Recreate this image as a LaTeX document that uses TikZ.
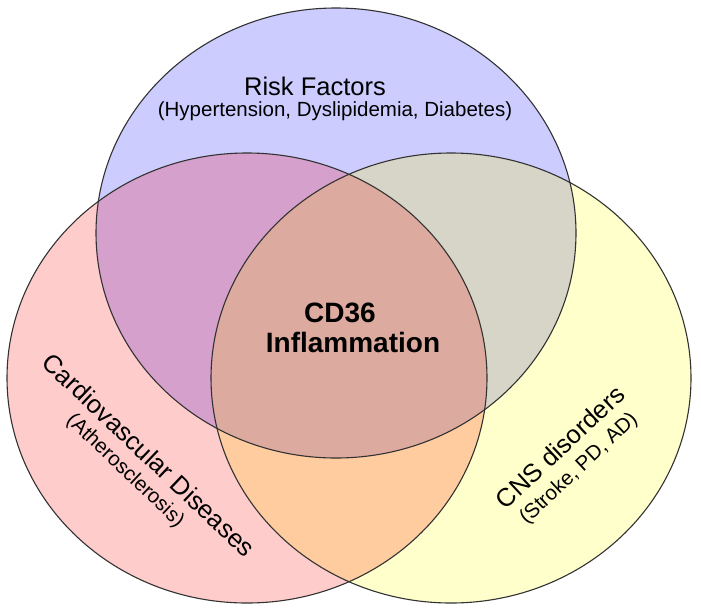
\documentclass[tikz,border=0pt]{standalone}
\usepackage{fontspec}
\setmainfont{Liberation Sans}
\usetikzlibrary{positioning}

\definecolor{riskblue}{RGB}{204,204,255}
\definecolor{cvdpink}{RGB}{255,204,204}
\definecolor{cnsyellow}{RGB}{255,255,204}
\definecolor{riskcvd}{RGB}{213,160,204}
\definecolor{riskcns}{RGB}{215,213,200}
\definecolor{cvdcns}{RGB}{255,204,160}
\definecolor{allthree}{RGB}{220,170,158}
\definecolor{rimgray}{RGB}{50,50,50}

\begin{document}
\begin{tikzpicture}[
    x=1pt, y=-1pt,
    venn/.style={
        x radius=240,
        y radius=225
    },
    rim/.style={
        draw=rimgray,
        line width=1.1pt
    },
    head/.style={
        font=\fontsize{25.5}{28}\selectfont,
        inner sep=0pt
    },
    subhead/.style={
        font=\fontsize{20.5}{23}\selectfont,
        inner sep=0pt
    },
    core/.style={
        font=\bfseries\fontsize{28}{30}\selectfont,
        inner sep=0pt
    }
    ]
\useasboundingbox (0,0) rectangle (701,614);

\coordinate (riskC) at (336,233);
\coordinate (cvdC) at (247,378);
\coordinate (cnsC) at (451,378);

% the three sets
\fill[riskblue] (riskC) ellipse [venn];
\fill[cvdpink] (cvdC) ellipse [venn];
\fill[cnsyellow] (cnsC) ellipse [venn];

% overlaps
\begin{scope}
\clip (riskC) ellipse [venn];
\fill[riskcvd] (cvdC) ellipse [venn];
\fill[riskcns] (cnsC) ellipse [venn];
\end{scope}
\begin{scope}
\clip (cvdC) ellipse [venn];
\fill[cvdcns] (cnsC) ellipse [venn];
\clip (cnsC) ellipse [venn];
\fill[allthree] (riskC) ellipse [venn];
\end{scope}

\foreach \c in {riskC,cvdC,cnsC}
\draw[rim] (\c) ellipse [venn];

% labels
\node[head, anchor=base] (risk) at (315,95) {Risk Factors};
\node[subhead, anchor=base] (riskinfo) at (335,116) {(Hypertension, Dyslipidemia, Diabetes)};

\node[core, anchor=base] (cd) at (340,322) {CD36};
\node[core, anchor=base] (infl) at (353,352) {Inflammation};

\node[head, rotate=-43.5] (cvd) at (149,455) {Cardiovascular Diseases};
\node[subhead, rotate=-43.5] (cvdinfo) at (125,471) {(Atherosclerosis)};

\node[head, rotate=43] (cns) at (560,447) {CNS disorders};
\node[subhead, rotate=43] (cnsinfo) at (579,469) {(Stroke, PD, AD)};
\end{tikzpicture}
\end{document}
